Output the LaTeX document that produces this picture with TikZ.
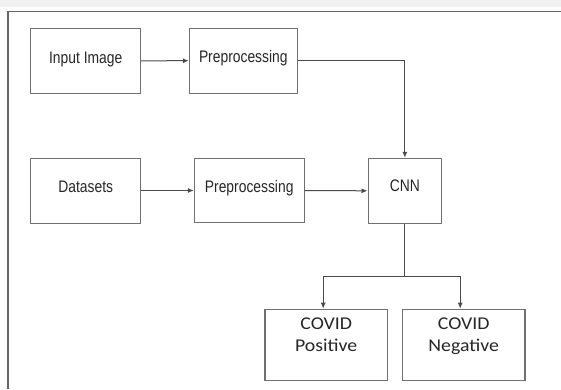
\documentclass[tikz,border=0pt]{standalone}
\usepackage{fontspec}
\newfontfamily\narrowsans[FakeStretch=0.83]{Liberation Sans}
\newfontfamily\covidfont[FakeStretch=1.1]{Carlito}
\usetikzlibrary{arrows.meta,calc}
\definecolor{boxline}{HTML}{707070}
\definecolor{conn}{HTML}{4A4A4A}
\definecolor{txt}{HTML}{262626}
\definecolor{frameline}{HTML}{666666}
\definecolor{band}{HTML}{F1F1F1}
\tikzset{
  flowbox/.style={draw=boxline, line width=1pt, inner sep=0pt, text=txt,
    font=\narrowsans\fontsize{16.7}{18}\selectfont, text height=12pt},
  outbox/.style={draw=boxline, line width=1.2pt, inner sep=0pt},
  covtext/.style={anchor=base, inner sep=0pt, text=txt,
    font=\covidfont\fontsize{18}{20}\selectfont},
  conline/.style={draw=conn, line width=1pt},
  conarrow/.style={conline, -{Latex[length=6pt,width=5pt]}},
}
\begin{document}
\begin{tikzpicture}[x=1pt,y=-1pt]
\useasboundingbox (0,0) rectangle (561,389);
% top band and frame
\fill[band] (0,0) rectangle (561,7);
\draw[frameline, line width=2pt] (7.5,389) -- (7.5,11.5);
\draw[frameline, line width=1.5pt] (6.5,11.5) -- (561,11.5);
% boxes
\node[flowbox, minimum width=110pt, minimum height=65pt, text depth=7.6pt] (in) at (85.7,60.8) {Input Image};
\node[flowbox, minimum width=108pt, minimum height=65pt, text depth=9.4pt] (p1) at (243.3,60.7) {Preprocessing};
\node[flowbox, minimum width=110pt, minimum height=65pt, text depth=8pt] (ds) at (85.7,190.5) {Datasets};
\node[flowbox, minimum width=109.7pt, minimum height=64.5pt, text depth=7.6pt] (p2) at (249.2,190.5) {Preprocessing};
\node[flowbox, minimum width=73.7pt, minimum height=65pt, text depth=10pt] (cnn) at (404.85,190.8) {CNN};
\node[outbox, minimum width=122.3pt, minimum height=71.4pt] (pos) at (326.2,345) {};
\node[outbox, minimum width=122.7pt, minimum height=71.4pt] (neg) at (463.7,345) {};
\node[covtext] (pos1) at (326.2,329.3) {COVID};
\node[covtext] (pos2) at (326.2,351.7) {Positive};
\node[covtext] (neg1) at (463.7,329.3) {COVID};
\node[covtext] (neg2) at (463.7,351.7) {Negative};
% connectors
\draw[conarrow] (in.east) -- (p1.west);
\draw[conarrow] (ds.east) -- (p2.west);
\draw[conarrow] (p2.east) -- (cnn.west);
\draw[conarrow] (p1.east) -| (cnn.north);
\coordinate (split) at (404.85,276.7);
\draw[conline] (cnn.south) -- (split);
\draw[conarrow] (split) -| ([xshift=-3pt]pos.north);
\draw[conarrow] (split) -| ([xshift=-3.5pt]neg.north);
\end{tikzpicture}
\end{document}
